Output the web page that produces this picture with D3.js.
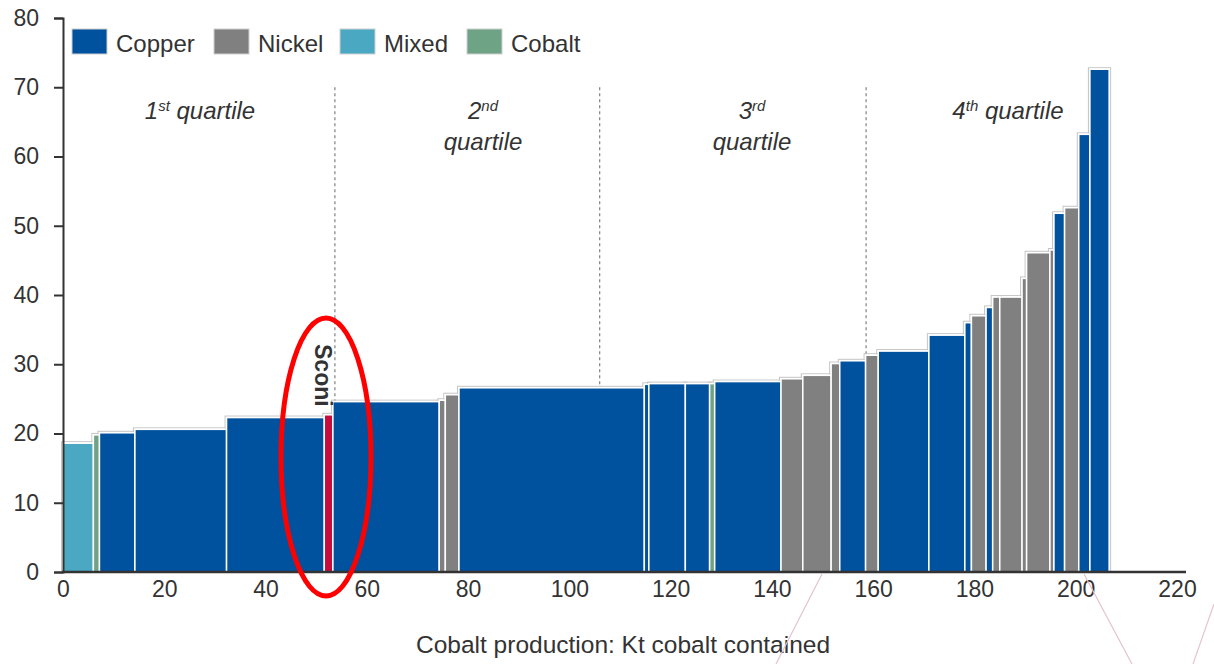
<!DOCTYPE html>
<html>
<head>
<meta charset="utf-8">
<script src="https://cdn.jsdelivr.net/npm/d3@7"></script>
<style>
  body { margin: 0; background: #fff; }
  svg text { font-family: Arial, "Liberation Sans", sans-serif; fill: #333; }
</style>
</head>
<body>
<svg id="chart" width="1214" height="664"></svg>
<script>
// production per asset (kt cobalt) and cash cost, in curve order
const widths = [6.0, 1.2, 7.0, 18.1, 19.3, 1.7, 21.0, 1.2, 2.7, 36.6, 0.9, 7.2, 4.8, 1.0, 13.1, 4.3, 5.6, 1.7, 5.1, 2.5,
                10.0, 7.1, 1.3, 2.9, 1.3, 1.4, 4.4, 0.9, 4.6, 0.8, 2.1, 2.8, 2.2, 3.8];
const costs = [18.6, 19.8, 20.1, 20.6, 22.3, 22.7, 24.6, 24.8, 25.6, 26.6, 27.1, 27.2, 27.2, 27.2, 27.5, 27.9, 28.4, 30.1, 30.5, 31.3,
               31.9, 34.2, 36.0, 37.0, 38.2, 39.7, 39.7, 42.4, 46.1, 46.5, 51.8, 52.6, 63.2, 72.6];
const types = ["Mixed", "Cobalt", "Copper", "Copper", "Copper", "Sconi", "Copper", "Nickel", "Nickel", "Copper",
               "Copper", "Copper", "Copper", "Cobalt", "Copper", "Nickel", "Nickel", "Nickel", "Copper", "Nickel",
               "Copper", "Copper", "Copper", "Nickel", "Copper", "Nickel", "Nickel", "Nickel", "Nickel", "Nickel",
               "Copper", "Nickel", "Copper", "Copper"];
const legendNames = ["Copper", "Nickel", "Mixed", "Cobalt"];
const quartileBreaks = [53.7, 106.0, 158.6];
const xTicks = [0, 20, 40, 60, 80, 100, 120, 140, 160, 180, 200, 220];
const yTicks = [0, 10, 20, 30, 40, 50, 60, 70, 80];

const colors = {Copper: "#00519e", Nickel: "#808080", Mixed: "#4aa8c3", Cobalt: "#6fa386", Sconi: "#c60c3c"};

const svg = d3.select("#chart");
const x = d3.scaleLinear().domain([0, 220]).range([63, 1177]);
const y = d3.scaleLinear().domain([0, 80]).range([572, 18]);

// cumulative positions
let acc = 0;
const bars = widths.map((w, i) => {
  const b = {x0: acc, x1: acc + w, v: costs[i], t: types[i]};
  acc += w;
  return b;
});

// quartile dividers
svg.selectAll(".qline").data(quartileBreaks).enter().append("line")
  .attr("x1", d => x(d)).attr("x2", d => x(d))
  .attr("y1", y(70)).attr("y2", y(0))
  .attr("stroke", "#666").attr("stroke-width", 1).attr("stroke-dasharray", "3,3");

// grey outline behind bars
svg.append("g").selectAll("rect").data(bars).enter().append("rect")
  .attr("x", d => x(d.x0) - 1.5).attr("y", d => y(d.v) - 1.5)
  .attr("width", d => x(d.x1) - x(d.x0) + 3).attr("height", d => y(0) - y(d.v) + 1.5)
  .attr("fill", "none").attr("stroke", "#c4c4c4").attr("stroke-width", 1);

svg.append("g").selectAll("rect").data(bars).enter().append("rect")
  .attr("x", d => x(d.x0)).attr("y", d => y(d.v))
  .attr("width", d => x(d.x1) - x(d.x0)).attr("height", d => y(0) - y(d.v))
  .attr("fill", d => colors[d.t]).attr("stroke", "#fff").attr("stroke-width", 1.5);

// axes
const yAxis = svg.append("g").attr("transform", "translate(63,0)")
  .call(d3.axisLeft(y).tickValues(yTicks).tickSize(9).tickPadding(15));
yAxis.select(".domain").attr("stroke", "#333").attr("stroke-width", 2);
yAxis.selectAll(".tick line").attr("stroke", "#333").attr("stroke-width", 2);
yAxis.selectAll("text").style("font-size", "23px").attr("fill", "#333");

const xAxis = svg.append("g").attr("transform", "translate(0,572)")
  .call(d3.axisBottom(x).tickValues(xTicks).tickSize(0).tickPadding(9));
xAxis.select(".domain").remove();
xAxis.selectAll("text").style("font-size", "23px").attr("fill", "#333");
svg.append("line").attr("x1", 62).attr("x2", 1186).attr("y1", 572).attr("y2", 572)
  .attr("stroke", "#333").attr("stroke-width", 2.5);

svg.append("text").attr("x", 623).attr("y", 653).attr("text-anchor", "middle")
  .style("font-size", "24.5px").text("Cobalt production: Kt cobalt contained");

// legend
const legendX = [72, 214, 340, 467];
const lg = svg.append("g").selectAll("g").data(legendNames).enter().append("g")
  .attr("transform", (d, i) => `translate(${legendX[i]},29)`);
lg.append("rect").attr("width", 35).attr("height", 25)
  .attr("fill", d => colors[d]).attr("stroke", "#d0d0d0").attr("stroke-width", 1);
lg.append("text").attr("x", 44).attr("y", 23).style("font-size", "24px").text(d => d);

// quartile labels
function qLabel(cx, yy, num, sup, rest) {
  const t = svg.append("text").attr("x", cx).attr("y", yy).attr("text-anchor", "middle")
    .style("font-size", "24px").style("font-style", "italic");
  t.append("tspan").text(num);
  t.append("tspan").text(sup).attr("dy", -8).style("font-size", "15px");
  if (rest) t.append("tspan").text(rest).attr("dy", 8);
}
qLabel(200, 119, "1", "st", " quartile");
qLabel(483, 119, "2", "nd", null);
svg.append("text").attr("x", 483).attr("y", 150).attr("text-anchor", "middle")
  .style("font-size", "24px").style("font-style", "italic").text("quartile");
qLabel(752, 119, "3", "rd", null);
svg.append("text").attr("x", 752).attr("y", 150).attr("text-anchor", "middle")
  .style("font-size", "24px").style("font-style", "italic").text("quartile");
qLabel(1008, 119, "4", "th", " quartile");

// Sconi label and highlight
const sconi = bars[5];
svg.append("text")
  .attr("transform", `translate(${x((sconi.x0 + sconi.x1) / 2) - 14},344) rotate(90)`)
  .style("font-size", "23px").style("font-weight", "bold").attr("fill", "#404040")
  .text("Sconi");
svg.append("ellipse").attr("cx", 326).attr("cy", 457).attr("rx", 45).attr("ry", 139)
  .attr("fill", "none").attr("stroke", "#ff0000").attr("stroke-width", 5);

// faint stray lines from the slide
const stray = [[822, 574, 776, 664], [1084, 574, 1132, 664], [1214, 604, 1193, 664]];
svg.selectAll(".stray").data(stray).enter().append("line")
  .attr("x1", d => d[0]).attr("y1", d => d[1]).attr("x2", d => d[2]).attr("y2", d => d[3])
  .attr("stroke", "#e3c3cc").attr("stroke-width", 1.2);
</script>
</body>
</html>
